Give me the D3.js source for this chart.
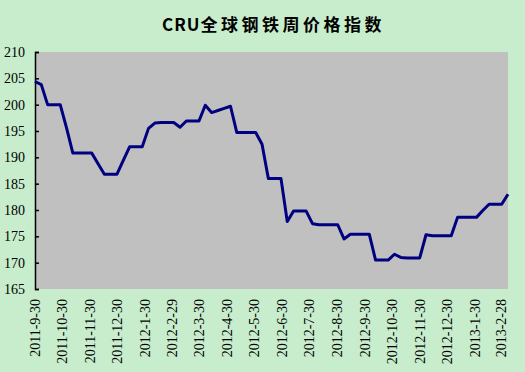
<!DOCTYPE html>
<html>
<head>
<meta charset="utf-8">
<script src="https://cdn.jsdelivr.net/npm/d3@7"></script>
<style>
  body { margin: 0; background: #c7edcc; }
  svg { display: block; }
</style>
</head>
<body>
<div id="chart"></div>
<script>
// weekly index values, starting 2011-9-30 (fridays)
var startDate = "2011-09-30";
var values = [
  204.4, 203.8, 200.0, 200.0, 200.0, 195.6, 190.8, 190.8, 190.8, 190.8,
  188.8, 186.8, 186.8, 186.8, 189.4, 192.0, 192.0, 192.0, 195.5, 196.5,
  196.6, 196.6, 196.6, 195.7, 196.9, 196.9, 196.9, 199.9, 198.5, 198.9,
  199.3, 199.7, 194.7, 194.7, 194.7, 194.7, 192.5, 186.0, 186.0, 186.0,
  177.8, 179.8, 179.8, 179.8, 177.4, 177.2, 177.2, 177.2, 177.2, 174.5,
  175.4, 175.4, 175.4, 175.4, 170.5, 170.5, 170.5, 171.6, 171.0, 170.9,
  170.9, 170.9, 175.3, 175.1, 175.1, 175.1, 175.1, 178.6, 178.6, 178.6,
  178.6, 179.9, 181.1, 181.1, 181.1, 183.0
];
var tickLabels = [
  "2011-9-30", "2011-10-30", "2011-11-30", "2011-12-30", "2012-1-30",
  "2012-2-29", "2012-3-30", "2012-4-30", "2012-5-30", "2012-6-30",
  "2012-7-30", "2012-8-30", "2012-9-30", "2012-10-30", "2012-11-30",
  "2012-12-30", "2013-1-30", "2013-2-28"
];
var yTicks = [165, 170, 175, 180, 185, 190, 195, 200, 205, 210];

var parse = d3.timeParse("%Y-%m-%d");
var t0 = parse(startDate);
var data = values.map(function(v, i) {
  return { date: d3.timeDay.offset(t0, i * 7), value: v };
});

var width = 525, height = 372;
var mLeft = 35, mRight = 508, mTop = 52, mBottom = 289;

var svg = d3.select("#chart").append("svg")
  .attr("width", width)
  .attr("height", height);

svg.append("rect")
  .attr("width", width).attr("height", height)
  .attr("fill", "#c7edcc");

var x = d3.scaleTime()
  .domain([data[0].date, data[data.length - 1].date])
  .range([mLeft, mRight]);

var y = d3.scaleLinear()
  .domain([165, 210])
  .range([mBottom, mTop]);

svg.append("rect")
  .attr("x", mLeft).attr("y", mTop)
  .attr("width", mRight - mLeft).attr("height", mBottom - mTop)
  .attr("fill", "#c0c0c0");

// title
var title = svg.append("text")
  .attr("x", 162).attr("y", 31)
  .attr("font-family", "'Noto Sans CJK SC', sans-serif")
  .attr("font-weight", "bold")
  .attr("font-size", "17px")
  .attr("fill", "#000");
title.append("tspan").attr("letter-spacing", "1px").text("CRU");
title.append("tspan").attr("letter-spacing", "3.5px").text("全球钢铁周价格指数");

// y axis
var yAxis = d3.axisLeft(y)
  .tickValues(yTicks)
  .tickSize(-4)
  .tickPadding(10);
var gy = svg.append("g")
  .attr("transform", "translate(" + mLeft + ",0)")
  .call(yAxis);
gy.select(".domain").attr("stroke", "#000").attr("stroke-width", 1.5);
gy.selectAll(".tick line").attr("stroke", "#000").attr("stroke-width", 1.5);
gy.selectAll(".tick text")
  .attr("font-family", "'Liberation Serif', serif")
  .attr("font-size", "14px")
  .attr("fill", "#000");

// x axis labels (no axis line)
var xAxis = d3.axisBottom(x)
  .tickValues(tickLabels.map(function(s) {
    var p = s.split("-");
    return new Date(+p[0], +p[1] - 1, +p[2]);
  }))
  .tickSize(0)
  .tickFormat(function(d, i) { return tickLabels[i]; });
var gx = svg.append("g")
  .attr("transform", "translate(0," + mBottom + ")")
  .call(xAxis);
gx.select(".domain").remove();
gx.selectAll(".tick text")
  .attr("font-family", "'Liberation Serif', serif")
  .attr("font-size", "14px")
  .attr("fill", "#000")
  .attr("text-anchor", "end")
  .attr("transform", "translate(0,10) rotate(-90)")
  .attr("x", 0).attr("y", 0)
  .attr("dy", "0.35em");

// line
var line = d3.line()
  .x(function(d) { return x(d.date); })
  .y(function(d) { return y(d.value); });

svg.append("path")
  .datum(data)
  .attr("d", line)
  .attr("fill", "none")
  .attr("stroke", "#000080")
  .attr("stroke-width", 3)
  .attr("stroke-linejoin", "round");
</script>
</body>
</html>
